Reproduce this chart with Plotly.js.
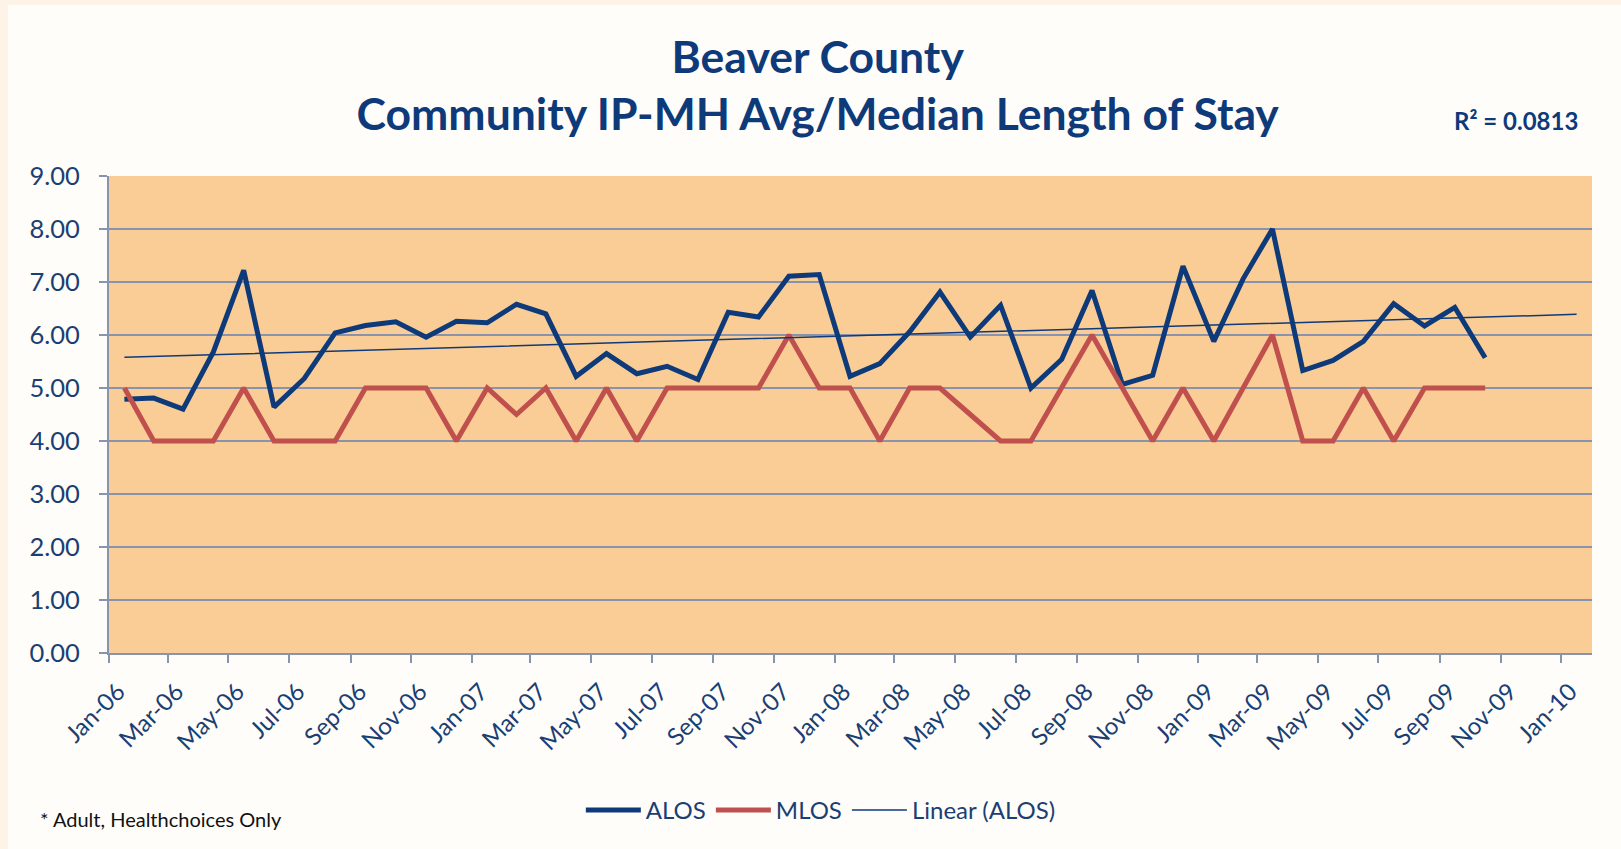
<!DOCTYPE html>
<html><head><meta charset="utf-8">
<script src="https://cdn.plot.ly/plotly-3.0.1.min.js"></script>
<style>
html,body{margin:0;padding:0;background:#FDF3E7;width:1621px;height:849px;overflow:hidden;}
#chart{position:absolute;left:8px;top:5px;width:1613px;height:844px;}
</style></head><body><div id="chart"></div>
<script>
const months = ['2006-01','2006-02','2006-03','2006-04','2006-05','2006-06','2006-07','2006-08','2006-09','2006-10','2006-11','2006-12',
'2007-01','2007-02','2007-03','2007-04','2007-05','2007-06','2007-07','2007-08','2007-09','2007-10','2007-11','2007-12',
'2008-01','2008-02','2008-03','2008-04','2008-05','2008-06','2008-07','2008-08','2008-09','2008-10','2008-11','2008-12',
'2009-01','2009-02','2009-03','2009-04','2009-05','2009-06','2009-07','2009-08','2009-09','2009-10'];
const alos = [4.79,4.81,4.60,5.68,7.22,4.64,5.18,6.04,6.18,6.25,
5.96,6.26,6.23,6.58,6.40,5.22,5.65,5.27,5.41,5.16,
6.43,6.34,7.11,7.14,5.22,5.46,6.06,6.81,5.96,6.56,
5.00,5.54,6.84,5.07,5.24,7.30,5.88,7.06,8.00,5.33,
5.52,5.88,6.59,6.17,6.52,5.57];
const mlos = [5,4,4,4,5,4,4,4,5,5,
5,4,5,4.5,5,4,5,4,5,5,
5,5,6,5,5,4,5,5,4.5,4,
4,5,6,5,4,5,4,5,6,4,
4,5,4,5,5,5];
const trendForward = 3;
const seriesNames = ['ALOS','MLOS','Linear (ALOS)'];
const titleLines = ['Beaver County','Community IP-MH Avg/Median Length of Stay'];
const r2Label = 'R\u00B2 = 0.0813';
const noteText = '* Adult, Healthchoices Only';
const xRange = ['2006-01-01','2010-02-01'];
const yRange = [0, 9];

// linear trendline (least squares on month index)
const n = alos.length;
let sx=0, sy=0, sxx=0, sxy=0;
for (let i=0;i<n;i++){sx+=i;sy+=alos[i];sxx+=i*i;sxy+=i*alos[i];}
const slope=(n*sxy-sx*sy)/(n*sxx-sx*sx);
const intercept=(sy-slope*sx)/n;
function addMonths(ym,k){const p=ym.split('-').map(Number);const t=p[0]*12+(p[1]-1)+k;return Math.floor(t/12)+'-'+String(t%12+1).padStart(2,'0');}
const trendX=[], trendY=[];
for(let i=0;i<n+trendForward;i++){trendX.push(addMonths(months[0],i));trendY.push(intercept+slope*i);}

const FONT = 'Lato, "Open Sans", sans-serif';
const NAVY = '#0E3A7A';
const TXT = '#1A3F72';
const GRID = '#8A93AE';

const common = {mode:'lines', xperiod:'M1', xperiodalignment:'middle', hoverinfo:'x+y'};
const traces = [
  Object.assign({x:months, y:alos, name:seriesNames[0], line:{color:NAVY, width:5}}, common),
  Object.assign({x:months, y:mlos, name:seriesNames[1], line:{color:'#C0504D', width:5}}, common),
  Object.assign({x:trendX, y:trendY, name:seriesNames[2], line:{color:NAVY, width:1.5}}, common)
];

const layout = {
  width:1613, height:844,
  paper_bgcolor:'#FFFDFA', plot_bgcolor:'#F9CD95',
  margin:{l:101, r:29, t:171, b:196},
  font:{family:FONT, color:TXT},
  title:{text:titleLines.join('<br>'), font:{family:FONT, size:44.5, weight:'bold', color:NAVY},
         xref:'container', yref:'container', x:0.502, xanchor:'center', y:0.92, yanchor:'top'},
  showlegend:true,
  legend:{orientation:'h', x:0.48, xanchor:'center', y:-0.33, yanchor:'middle',
          font:{family:FONT, size:24, color:TXT}, itemwidth:55, bgcolor:'rgba(0,0,0,0)'},
  xaxis:{type:'date', range:xRange, tick0:'2006-01-01', dtick:'M2', tickformat:'%b-%y',
         tickangle:-45, ticks:'outside', ticklen:8, tickcolor:GRID, tickwidth:2,
         showline:true, linecolor:GRID, linewidth:2, showgrid:false, zeroline:false,
         ticklabelshift:9, ticklabelstandoff:5,
         tickfont:{family:FONT, size:24, color:TXT}, fixedrange:true},
  yaxis:{range:yRange, dtick:1, tickformat:'.2f', ticks:'outside', ticklen:8, tickcolor:GRID, tickwidth:2,
         showline:true, linecolor:GRID, linewidth:2, showgrid:true, gridcolor:GRID, gridwidth:1.5,
         zeroline:false, ticklabelstandoff:14, tickfont:{family:FONT, size:25.5, color:TXT}, fixedrange:true},
  annotations:[
    {text:r2Label, xref:'paper', yref:'paper', x:0.992, y:1.116, xanchor:'right', yanchor:'middle',
     showarrow:false, font:{family:FONT, size:24, weight:'bold', color:NAVY}},
    {text:noteText, xref:'paper', yref:'paper', x:-0.0479, y:-0.348, xanchor:'left', yanchor:'middle',
     showarrow:false, font:{family:FONT, size:20, color:'#111111'}}
  ]
};
Plotly.newPlot('chart', traces, layout, {displayModeBar:false, staticPlot:false});
</script></body></html>
